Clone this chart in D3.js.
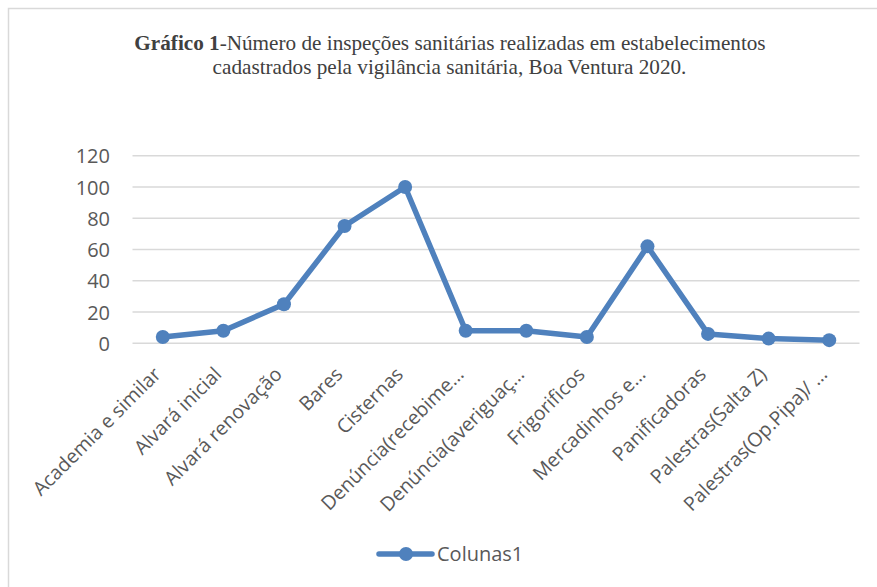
<!doctype html>
<html>
  <head>
    <meta charset="utf-8">
    <script src="https://cdn.jsdelivr.net/npm/d3@7"></script>
    <style>
      body { margin:0; background:#fff; }
      svg text { font-family: "Open Sans", sans-serif; }
    </style>
  </head>
  <body>
    <script>
      // chart data
      var categories = ["Academia e similar", "Alvará inicial", "Alvará renovação", "Bares", "Cisternas",
                        "Denúncia(recebime…", "Denúncia(averiguaç…", "Frigorificos", "Mercadinhos e…",
                        "Panificadoras", "Palestras(Salta Z)", "Palestras(Op.Pipa)/ …"];
      var values = [4, 8, 25, 75, 100, 8, 8, 4, 62, 6, 3, 2];
      var y_ticks = [0, 20, 40, 60, 80, 100, 120];
      var series_name = "Colunas1";

      var w_svg = 877, h_svg = 587;
      var left = 132.5, right = 859.5, top_y = 155.7, bottom = 343.3;
      var blue = "#4f81bd";

      var svg = d3.select("body").append("svg")
                  .attr("width", w_svg)
                  .attr("height", h_svg);

      // chart frame (only top and left edges visible)
      svg.append("path")
         .attr("d", "M8.5," + h_svg + "V8.5H" + w_svg)
         .attr("fill", "none")
         .attr("stroke", "#d9d9d9")
         .attr("stroke-width", 1.5);

      // title
      var title = svg.append("text")
                     .attr("text-anchor", "middle")
                     .style("font-family", "'Liberation Serif', 'Times New Roman', serif")
                     .style("font-size", "21.2px")
                     .attr("fill", "#404040");
      var l1 = title.append("tspan").attr("x", 450).attr("y", 50);
      l1.append("tspan").attr("font-weight", "bold").text("Gráfico 1");
      l1.append("tspan").text("-Número de inspeções sanitárias realizadas em estabelecimentos");
      title.append("tspan").attr("x", 449.5).attr("y", 74)
           .text("cadastrados pela vigilância sanitária, Boa Ventura 2020.");

      var x = d3.scaleBand().domain(categories).range([left, right]);
      var y = d3.scaleLinear().domain([0, 120]).range([bottom, top_y]);

      // gridlines
      svg.append("g").selectAll("line")
         .data(y_ticks)
         .enter().append("line")
         .attr("x1", left).attr("x2", right)
         .attr("y1", function(d){ return y(d); })
         .attr("y2", function(d){ return y(d); })
         .attr("stroke", "#d9d9d9")
         .attr("stroke-width", 1.5);

      // y axis labels
      var yAxis = d3.axisLeft(y).tickValues(y_ticks).tickSize(0).tickPadding(0);
      var gy = svg.append("g").attr("transform", "translate(110,0)").call(yAxis);
      gy.select(".domain").remove();
      gy.selectAll("text")
        .attr("fill", "#595959")
        .style("font-family", "'Open Sans', sans-serif")
        .style("font-size", "20px")
        .attr("dy", "0.36em");

      // x axis labels, rotated
      var xAxis = d3.axisBottom(x).tickSize(0).tickPadding(0);
      var gx = svg.append("g").attr("transform", "translate(0," + (bottom + 12) + ")").call(xAxis);
      gx.select(".domain").remove();
      gx.selectAll("text")
        .attr("fill", "#595959")
        .style("font-family", "'Open Sans', sans-serif")
        .style("font-size", "19.5px")
        .attr("text-anchor", "end")
        .attr("dy", "0.6em")
        .attr("y", 0)
        .attr("transform", "translate(-9,12) rotate(-45)");

      // line + markers
      var line = d3.line()
                   .x(function(d, i){ return x(categories[i]) + x.bandwidth() / 2; })
                   .y(function(d){ return y(d); });

      svg.append("path")
         .datum(values)
         .attr("d", line)
         .attr("fill", "none")
         .attr("stroke", blue)
         .attr("stroke-width", 5.5)
         .attr("stroke-linejoin", "round");

      svg.selectAll("circle.pt")
         .data(values)
         .enter().append("circle")
         .attr("class", "pt")
         .attr("cx", function(d, i){ return x(categories[i]) + x.bandwidth() / 2; })
         .attr("cy", function(d){ return y(d); })
         .attr("r", 7)
         .attr("fill", blue);

      // legend
      var lg = svg.append("g").attr("transform", "translate(0,554)");
      lg.append("line").attr("x1", 379).attr("x2", 432).attr("y1", 0).attr("y2", 0)
        .attr("stroke", blue).attr("stroke-width", 5.5).attr("stroke-linecap", "round");
      lg.append("circle").attr("cx", 406).attr("cy", 0).attr("r", 7).attr("fill", blue);
      lg.append("text").attr("x", 437).attr("y", 0).attr("dy", "0.35em")
        .attr("fill", "#595959")
        .style("font-family", "'Open Sans', sans-serif")
        .style("font-size", "20px").text(series_name);
    </script>
  </body>
</html>
